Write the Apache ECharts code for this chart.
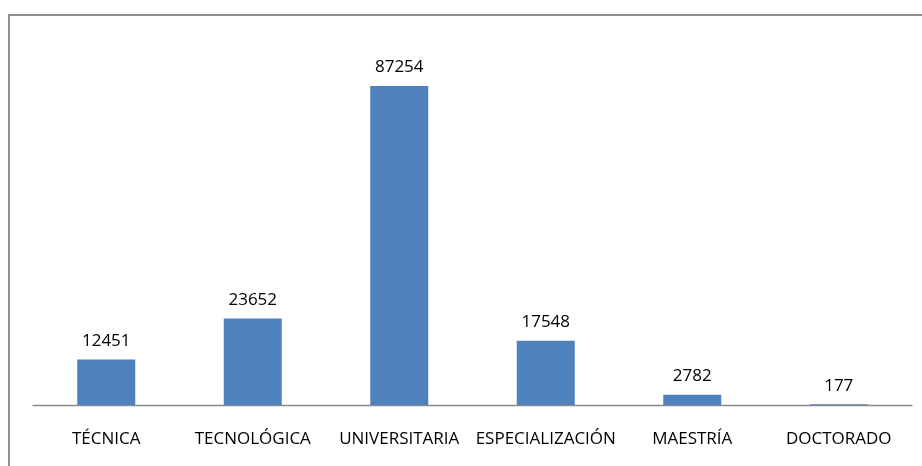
<!DOCTYPE html>
<html><head><meta charset="utf-8">
<script src="https://cdn.jsdelivr.net/npm/echarts@6/dist/echarts.min.js"></script>
<style>html,body{margin:0;padding:0;background:#fff}#c{width:922px;height:466px}</style>
</head><body><div id="c"></div>
<script>
const categories = ['TÉCNICA','TECNOLÓGICA','UNIVERSITARIA','ESPECIALIZACIÓN','MAESTRÍA','DOCTORADO'];
const values = [12451, 23652, 87254, 17548, 2782, 177];
const chart = echarts.init(document.getElementById('c'));
chart.setOption({
  animation:false,
  graphic:[{type:'rect',shape:{x:9,y:15,width:1000,height:600},style:{fill:'none',stroke:'#8f8f8f',lineWidth:2},silent:true}],
  grid:{left:33,right:10,top:39.4,bottom:61,containLabel:false},
  xAxis:{type:'category',data:categories,
    axisLine:{lineStyle:{color:'#8a8a8a',width:1.3}},axisTick:{show:false},
    axisLabel:{color:'#000',fontFamily:'Open Sans, sans-serif',fontSize:17,margin:26,interval:0}},
  yAxis:{type:'value',min:0,max:100000,show:false,splitLine:{show:false}},
  series:[{type:'bar',data:values,barWidth:58,itemStyle:{color:'#4f81bd'},
    label:{show:true,position:'top',distance:10,color:'#000',fontFamily:'Open Sans, sans-serif',fontSize:17}}]
});
</script></body></html>
